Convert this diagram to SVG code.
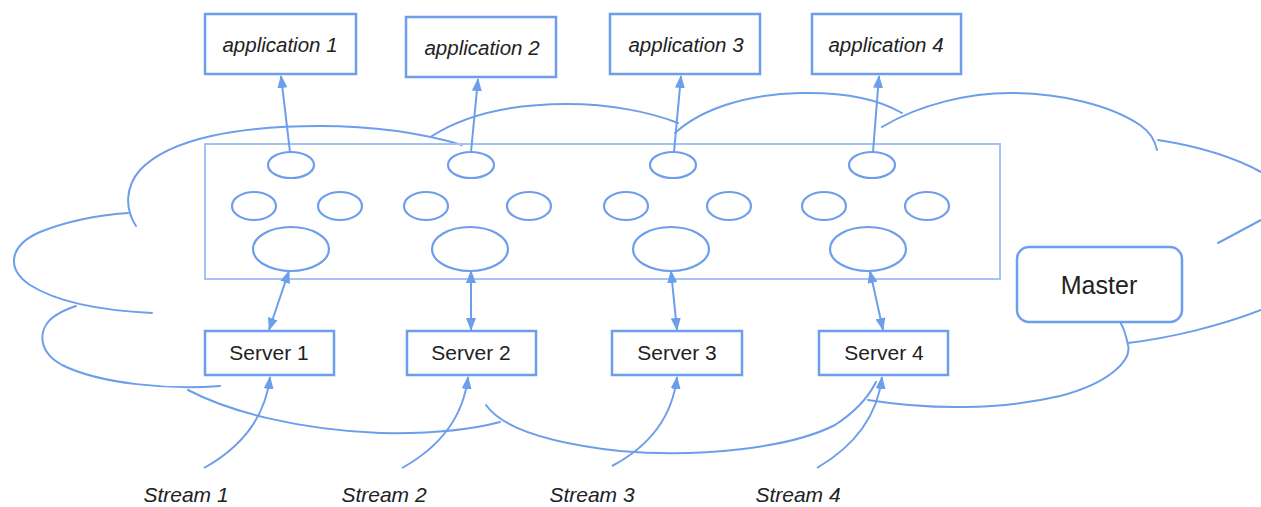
<svg xmlns="http://www.w3.org/2000/svg" width="1261" height="507" viewBox="0 0 1261 507">
<style>
.cloud{fill:none;stroke:#6d9eeb;stroke-width:2;stroke-linecap:round}
.box{fill:#fff;stroke:#6d9eeb;stroke-width:2.5}
.frame{fill:none;stroke:#a4c2f4;stroke-width:2}
.ell{fill:#fff;stroke:#6d9eeb;stroke-width:2.2}
.conn{fill:none;stroke:#6d9eeb;stroke-width:2}
.t{font-family:"Liberation Sans",Arial,sans-serif;fill:#222;text-anchor:middle}
.it{font-style:italic}
</style>
<defs>
<marker id="ah" viewBox="0 0 13 10" refX="12" refY="5" markerWidth="13" markerHeight="10" markerUnits="userSpaceOnUse" orient="auto-start-reverse">
<path d="M0,0 L13,5 L0,10 z" fill="#6d9eeb"/>
</marker>
</defs>
<rect width="1261" height="507" fill="#fff"/>
<g id="cloud">
<path class="cloud" d="M136,226 C124,208 126,186 140,170 C170,138 240,126 320,126 C380,126 425,134 462,145"/>
<path class="cloud" d="M152,313 C110,311 60,304 30,285 C5,268 10,245 40,232 C70,220 100,215 128,213"/>
<path class="cloud" d="M220,386 C170,390 100,384 62,365 C35,350 38,325 58,314 C64,310 70,308 76,306"/>
<path class="cloud" d="M188,390 C230,412 300,430 380,433 C430,434 470,430 500,422"/>
<path class="cloud" d="M486,405 C500,425 540,442 620,451 C700,458 790,448 835,425 C855,412 868,398 876,382"/>
<path class="cloud" d="M868,400 C930,410 1000,410 1060,396 C1110,383 1132,360 1128,345 C1126,335 1124,328 1120,322"/>
<path class="cloud" d="M1128,343 C1170,338 1220,326 1261,310"/>
<path class="cloud" d="M1218,243 C1235,234 1250,226 1261,220"/>
<path class="cloud" d="M432,136 C470,112 520,104 567,104 C610,104 650,112 678,123"/>
<path class="cloud" d="M675,133 C700,110 745,94 800,93 C845,92 880,100 902,113"/>
<path class="cloud" d="M882,127 C920,104 970,93 1010,93 C1060,93 1110,105 1140,125 C1150,132 1155,140 1157,150"/>
<path class="cloud" d="M1158,140 C1190,145 1230,155 1261,172"/>
</g>
<g id="cluster">
<rect class="frame" x="205" y="144" width="795" height="135"/>
<ellipse class="ell" cx="291" cy="165" rx="23" ry="13"/>
<ellipse class="ell" cx="471" cy="165" rx="23" ry="13"/>
<ellipse class="ell" cx="673" cy="165" rx="23" ry="13"/>
<ellipse class="ell" cx="872" cy="165" rx="23" ry="13"/>
<ellipse class="ell" cx="254" cy="206" rx="22" ry="14"/>
<ellipse class="ell" cx="340" cy="206" rx="22" ry="14"/>
<ellipse class="ell" cx="426" cy="206" rx="22" ry="14"/>
<ellipse class="ell" cx="529" cy="206" rx="22" ry="14"/>
<ellipse class="ell" cx="626" cy="206" rx="22" ry="14"/>
<ellipse class="ell" cx="729" cy="206" rx="22" ry="14"/>
<ellipse class="ell" cx="824" cy="206" rx="22" ry="14"/>
<ellipse class="ell" cx="927" cy="206" rx="22" ry="14"/>
<ellipse class="ell" cx="291" cy="249" rx="38" ry="22"/>
<ellipse class="ell" cx="470" cy="249" rx="38" ry="22"/>
<ellipse class="ell" cx="671" cy="249" rx="38" ry="22"/>
<ellipse class="ell" cx="868" cy="249" rx="38" ry="22"/>
</g>
<g id="connectors">
<path class="conn" d="M290,152 L281,76" marker-end="url(#ah)"/>
<path class="conn" d="M471,152 L478,79" marker-end="url(#ah)"/>
<path class="conn" d="M674,152 L681,76" marker-end="url(#ah)"/>
<path class="conn" d="M873,152 L879,76" marker-end="url(#ah)"/>
<path class="conn" d="M289,271 L269,330" marker-start="url(#ah)" marker-end="url(#ah)"/>
<path class="conn" d="M471,271 L471,330" marker-start="url(#ah)" marker-end="url(#ah)"/>
<path class="conn" d="M671,271 L677,330" marker-start="url(#ah)" marker-end="url(#ah)"/>
<path class="conn" d="M870,271 L883,330" marker-start="url(#ah)" marker-end="url(#ah)"/>
<path class="conn" d="M204,468 C240,448 265,420 270,377" marker-end="url(#ah)"/>
<path class="conn" d="M402,468 C438,448 463,420 468,377" marker-end="url(#ah)"/>
<path class="conn" d="M612,466 C646,448 672,420 677,377" marker-end="url(#ah)"/>
<path class="conn" d="M817,468 C851,448 877,420 882,377" marker-end="url(#ah)"/>
</g>
<g id="app1"><rect class="box" x="205" y="14" width="151" height="60"/><text class="t it" x="280" y="52" font-size="20.5">application 1</text></g>
<g id="app2"><rect class="box" x="406" y="17" width="150" height="60"/><text class="t it" x="482" y="55" font-size="20.5">application 2</text></g>
<g id="app3"><rect class="box" x="610" y="14" width="150" height="60"/><text class="t it" x="686" y="52" font-size="20.5">application 3</text></g>
<g id="app4"><rect class="box" x="812" y="14" width="149" height="60"/><text class="t it" x="886" y="52" font-size="20.5">application 4</text></g>
<g id="server1"><rect class="box" x="205" y="331" width="129" height="44"/><text class="t" x="269" y="360" font-size="21">Server 1</text></g>
<g id="server2"><rect class="box" x="407" y="331" width="129" height="44"/><text class="t" x="471" y="360" font-size="21">Server 2</text></g>
<g id="server3"><rect class="box" x="612" y="331" width="130" height="44"/><text class="t" x="677" y="360" font-size="21">Server 3</text></g>
<g id="server4"><rect class="box" x="819" y="331" width="129" height="44"/><text class="t" x="884" y="360" font-size="21">Server 4</text></g>
<g id="master"><rect class="box" x="1017" y="247" width="165" height="75" rx="12"/><text class="t" x="1099" y="294" font-size="25">Master</text></g>
<g id="stream1"><text class="t it" x="186" y="502" font-size="21">Stream 1</text></g>
<g id="stream2"><text class="t it" x="384" y="502" font-size="21">Stream 2</text></g>
<g id="stream3"><text class="t it" x="592" y="502" font-size="21">Stream 3</text></g>
<g id="stream4"><text class="t it" x="798" y="502" font-size="21">Stream 4</text></g>
</svg>
